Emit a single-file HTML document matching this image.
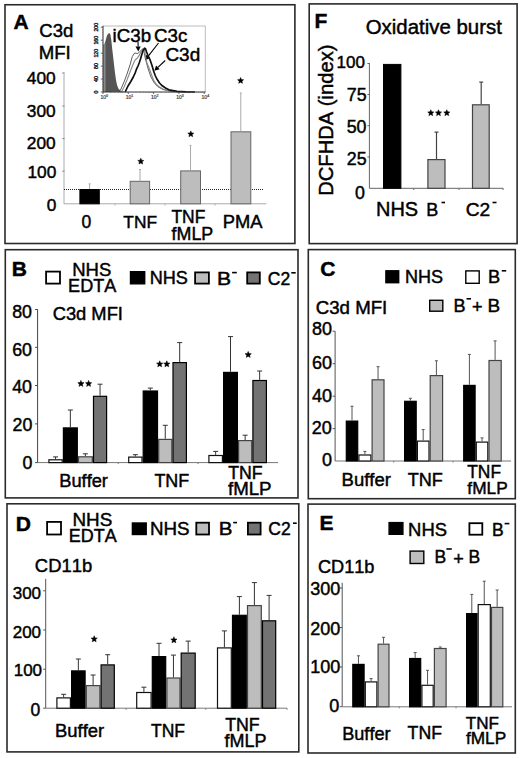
<!DOCTYPE html>
<html><head><meta charset="utf-8"><style>
html,body{margin:0;padding:0;background:#fff;overflow:hidden;}
svg{display:block;font-family:"Liberation Sans", sans-serif;font-kerning:none;}
text{font-kerning:none;stroke:#000;stroke-width:0.45px;}
</style></head><body>
<svg width="520" height="758" viewBox="0 0 520 758">
<rect width="520" height="758" fill="#fff"/>
<rect x="5" y="4.75" width="289.9" height="238.75" fill="none" stroke="#2a2a2a" stroke-width="1.6"/>
<text x="13.58" y="28.50" font-size="21.00" font-weight="bold" fill="#000">A</text>
<text x="39.26" y="36.50" font-size="18.55" fill="#000">C3d</text>
<text x="38.67" y="58.80" font-size="18.61" fill="#000">MFI</text>
<line x1="64" y1="72.6" x2="64" y2="204" stroke="#aaa" stroke-width="1" />
<line x1="62.2" y1="73" x2="64.5" y2="73" stroke="#888" stroke-width="1" />
<line x1="62.2" y1="106" x2="64.5" y2="106" stroke="#888" stroke-width="1" />
<line x1="62.2" y1="138.6" x2="64.5" y2="138.6" stroke="#888" stroke-width="1" />
<line x1="62.2" y1="171.2" x2="64.5" y2="171.2" stroke="#888" stroke-width="1" />
<line x1="64" y1="203.8" x2="266.4" y2="203.8" stroke="#aaa" stroke-width="1" />
<line x1="115" y1="203.8" x2="115" y2="205.5" stroke="#aaa" stroke-width="1" />
<line x1="165" y1="203.8" x2="165" y2="205.5" stroke="#aaa" stroke-width="1" />
<line x1="215" y1="203.8" x2="215" y2="205.5" stroke="#aaa" stroke-width="1" />
<line x1="64" y1="189.5" x2="264" y2="189.5" stroke="#222" stroke-width="1" stroke-dasharray="1 1"/>
<text x="26.81" y="84.00" font-size="17.30">400</text>
<text x="26.81" y="116.70" font-size="17.30">300</text>
<text x="26.81" y="149.30" font-size="17.30">200</text>
<text x="27.41" y="177.80" font-size="17.30">100</text>
<text x="46.65" y="210.50" font-size="17.30">0</text>
<rect x="79.90" y="189.50" width="19.40" height="14.30" fill="#000" stroke="#000" stroke-width="1"/>
<line x1="89.6" y1="189" x2="89.6" y2="183.8" stroke="#aaa" stroke-width="1" />
<line x1="88.6" y1="183.8" x2="90.6" y2="183.8" stroke="#aaa" stroke-width="1" />
<rect x="130.20" y="181.30" width="19.40" height="22.50" fill="#bdbdbd" stroke="#666" stroke-width="1"/>
<line x1="140" y1="180.8" x2="140" y2="169.5" stroke="#aaa" stroke-width="1" />
<line x1="139.0" y1="169.5" x2="141.0" y2="169.5" stroke="#aaa" stroke-width="1" />
<rect x="180.70" y="170.90" width="19.80" height="32.90" fill="#bdbdbd" stroke="#666" stroke-width="1"/>
<line x1="190.5" y1="170.4" x2="190.5" y2="145.4" stroke="#aaa" stroke-width="1" />
<line x1="189.5" y1="145.4" x2="191.5" y2="145.4" stroke="#aaa" stroke-width="1" />
<rect x="231.00" y="131.80" width="19.80" height="72.00" fill="#bdbdbd" stroke="#666" stroke-width="1"/>
<line x1="240.8" y1="131.3" x2="240.8" y2="93" stroke="#aaa" stroke-width="1" />
<line x1="239.8" y1="93" x2="241.8" y2="93" stroke="#aaa" stroke-width="1" />
<polygon points="140.80,158.20 141.67,160.21 143.84,160.42 142.20,161.86 142.68,163.99 140.80,162.88 138.92,163.99 139.40,161.86 137.76,160.42 139.93,160.21" fill="#000" stroke="#000" stroke-width="0.5" stroke-linejoin="round"/>
<polygon points="190.80,130.90 191.67,132.91 193.84,133.12 192.20,134.56 192.68,136.69 190.80,135.58 188.92,136.69 189.40,134.56 187.76,133.12 189.93,132.91" fill="#000" stroke="#000" stroke-width="0.5" stroke-linejoin="round"/>
<polygon points="240.60,77.50 241.47,79.51 243.64,79.72 242.00,81.16 242.48,83.29 240.60,82.18 238.72,83.29 239.20,81.16 237.56,79.72 239.73,79.51" fill="#000" stroke="#000" stroke-width="0.5" stroke-linejoin="round"/>
<text x="81.42" y="227.60" font-size="17.50" fill="#000">0</text>
<text x="123.31" y="228.00" font-size="17.33" fill="#000">TNF</text>
<text x="171.41" y="222.80" font-size="17.43" fill="#000">TNF</text>
<text x="171.55" y="239.80" font-size="17.86" fill="#000">fMLP</text>
<text x="222.70" y="228.00" font-size="18.34" fill="#000">PMA</text>
<text x="112.55" y="41.60" font-size="18.74" fill="#000">iC3b</text>
<text x="154.05" y="42.20" font-size="18.75" fill="#000">C3c</text>
<text x="165.44" y="61.00" font-size="18.96" fill="#000">C3d</text>
<line x1="138" y1="42" x2="138.1421839330015" y2="46.50249121171387" stroke="#000" stroke-width="1.1" />
<polygon points="138.3,51.5 135.5,46.6 140.7,46.4" fill="#000"/>
<line x1="158.5" y1="43" x2="148.0760089065009" y2="56.358151549446994" stroke="#000" stroke-width="1.1" />
<polygon points="145.0,60.3 146.0,54.8 150.1,58.0" fill="#000"/>
<line x1="165.2" y1="60.5" x2="157.93414100997626" y2="67.36590344928848" stroke="#000" stroke-width="1.1" />
<polygon points="154.3,70.8 156.1,65.5 159.7,69.3" fill="#000"/>
<rect x="309.2" y="3.9" width="207.90000000000003" height="239.7" fill="none" stroke="#2a2a2a" stroke-width="1.6"/>
<text x="314.40" y="27.90" font-size="21.00" font-weight="bold" fill="#000">F</text>
<text x="365.73" y="33.80" font-size="20.41" fill="#000">Oxidative burst</text>
<line x1="369.4" y1="63" x2="369.4" y2="188.3" stroke="#666" stroke-width="1" />
<line x1="367.4" y1="63.5" x2="369.9" y2="63.5" stroke="#666" stroke-width="1" />
<line x1="367.4" y1="94.5" x2="369.9" y2="94.5" stroke="#666" stroke-width="1" />
<line x1="367.4" y1="125.7" x2="369.9" y2="125.7" stroke="#666" stroke-width="1" />
<line x1="367.4" y1="157" x2="369.9" y2="157" stroke="#666" stroke-width="1" />
<line x1="369.4" y1="188.3" x2="503.3" y2="188.3" stroke="#666" stroke-width="1" />
<line x1="413.8" y1="188.3" x2="413.8" y2="190" stroke="#666" stroke-width="1" />
<line x1="459" y1="188.3" x2="459" y2="190" stroke="#666" stroke-width="1" />
<line x1="503" y1="188.3" x2="503" y2="190" stroke="#666" stroke-width="1" />
<text x="336.50" y="68.30" font-size="17.00">100</text>
<text x="346.75" y="100.90" font-size="17.80">75</text>
<text x="346.70" y="133.20" font-size="17.80">50</text>
<text x="346.75" y="164.50" font-size="17.80">25</text>
<text x="355.10" y="199.40" font-size="17.80">0</text>
<rect x="383.50" y="64.40" width="17.40" height="123.90" fill="#000" stroke="#000" stroke-width="1"/>
<rect x="427.90" y="159.60" width="17.10" height="28.70" fill="#bdbdbd" stroke="#444" stroke-width="1.2"/>
<line x1="436.5" y1="159" x2="436.5" y2="132.1" stroke="#444" stroke-width="1.2" />
<line x1="434.5" y1="132.1" x2="438.5" y2="132.1" stroke="#444" stroke-width="1.2" />
<rect x="472.50" y="104.80" width="16.70" height="83.50" fill="#bdbdbd" stroke="#444" stroke-width="1.2"/>
<line x1="481.2" y1="104.2" x2="481.2" y2="82.1" stroke="#444" stroke-width="1.2" />
<line x1="479.2" y1="82.1" x2="483.2" y2="82.1" stroke="#444" stroke-width="1.2" />
<polygon points="430.80,109.76 431.68,111.80 433.89,112.00 432.22,113.47 432.71,115.64 430.80,114.50 428.89,115.64 429.38,113.47 427.71,112.00 429.92,111.80" fill="#000" stroke="#000" stroke-width="0.5" stroke-linejoin="round"/>
<polygon points="438.50,109.76 439.38,111.80 441.59,112.00 439.92,113.47 440.41,115.64 438.50,114.50 436.59,115.64 437.08,113.47 435.41,112.00 437.62,111.80" fill="#000" stroke="#000" stroke-width="0.5" stroke-linejoin="round"/>
<polygon points="446.80,109.76 447.68,111.80 449.89,112.00 448.22,113.47 448.71,115.64 446.80,114.50 444.89,115.64 445.38,113.47 443.71,112.00 445.92,111.80" fill="#000" stroke="#000" stroke-width="0.5" stroke-linejoin="round"/>
<text x="376.06" y="215.70" font-size="19.97" fill="#000">NHS</text>
<text x="426.22" y="215.70" font-size="18.04" fill="#000">B</text>
<line x1="441.5" y1="202.5" x2="445" y2="202.5" stroke="#000" stroke-width="1.6" />
<text x="465.73" y="215.70" font-size="19.20" fill="#000">C2</text>
<line x1="492.5" y1="202.5" x2="496.5" y2="202.5" stroke="#000" stroke-width="1.6" />
<text transform="translate(333.1 194.2) rotate(-90)" x="-1.66" y="0" font-size="20.2">DCFHDA (index)</text>
<rect x="5.3" y="249.7" width="292.7" height="248.2" fill="none" stroke="#2a2a2a" stroke-width="1.6"/>
<text x="11.70" y="276.30" font-size="21.00" font-weight="bold" fill="#000">B</text>
<rect x="46.10" y="271.60" width="13.90" height="12.00" fill="#fff" stroke="#000" stroke-width="1.8"/>
<text x="72.18" y="275.50" font-size="18.50" fill="#000">NHS</text>
<text x="68.12" y="292.00" font-size="18.08" fill="#000">EDTA</text>
<rect x="130.50" y="271.70" width="14.20" height="12.10" fill="#000" stroke="#000" stroke-width="1.4"/>
<text x="149.72" y="284.40" font-size="18.10" fill="#000">NHS</text>
<rect x="195.10" y="272.40" width="13.80" height="11.20" fill="#bdbdbd" stroke="#000" stroke-width="1.8"/>
<text transform="translate(217.07 284.60) scale(1.2 1)" x="0" y="0" font-size="17.60">B</text>
<line x1="232.1" y1="272.6" x2="236.8" y2="272.6" stroke="#000" stroke-width="1.6" />
<rect x="247.20" y="272.40" width="12.60" height="11.20" fill="#737373" stroke="#000" stroke-width="1.8"/>
<text x="267.81" y="284.50" font-size="17.50" fill="#000">C2</text>
<line x1="291.3" y1="272.8" x2="295.7" y2="272.8" stroke="#000" stroke-width="1.6" />
<text x="52.67" y="320.00" font-size="18.34" fill="#000">C3d MFI</text>
<line x1="37.6" y1="309.3" x2="37.6" y2="462.6" stroke="#444" stroke-width="1" />
<line x1="35.1" y1="309.5" x2="37.6" y2="309.5" stroke="#444" stroke-width="1" />
<line x1="35.1" y1="347.3" x2="37.6" y2="347.3" stroke="#444" stroke-width="1" />
<line x1="35.1" y1="385.5" x2="37.6" y2="385.5" stroke="#444" stroke-width="1" />
<line x1="35.1" y1="423.9" x2="37.6" y2="423.9" stroke="#444" stroke-width="1" />
<line x1="35.1" y1="462.6" x2="37.6" y2="462.6" stroke="#444" stroke-width="1" />
<line x1="37.6" y1="462.6" x2="278" y2="462.6" stroke="#777" stroke-width="1" />
<line x1="118.2" y1="462.6" x2="118.2" y2="464" stroke="#777" stroke-width="1" />
<line x1="198" y1="462.6" x2="198" y2="464" stroke="#777" stroke-width="1" />
<text x="12.20" y="317.80" font-size="17.80">80</text>
<text x="12.20" y="356.00" font-size="17.80">60</text>
<text x="12.20" y="393.00" font-size="17.80">40</text>
<text x="12.50" y="431.20" font-size="17.80">20</text>
<text x="22.40" y="468.80" font-size="17.80">0</text>
<rect x="48.90" y="459.80" width="13.30" height="2.80" fill="#fff" stroke="#111" stroke-width="1.2"/>
<rect x="63.40" y="427.90" width="13.90" height="34.70" fill="#000" stroke="#000" stroke-width="1.2"/>
<rect x="78.50" y="456.80" width="13.80" height="5.80" fill="#bdbdbd" stroke="#444" stroke-width="1.2"/>
<rect x="93.50" y="396.30" width="13.10" height="66.30" fill="#737373" stroke="#000" stroke-width="1.2"/>
<line x1="55.55" y1="459.2" x2="55.55" y2="456.9" stroke="#333" stroke-width="1" />
<line x1="53.05" y1="456.9" x2="58.05" y2="456.9" stroke="#333" stroke-width="1" />
<line x1="70.35" y1="427.3" x2="70.35" y2="410" stroke="#333" stroke-width="1" />
<line x1="67.85" y1="410" x2="72.85" y2="410" stroke="#333" stroke-width="1" />
<line x1="85.4" y1="456.2" x2="85.4" y2="453.8" stroke="#333" stroke-width="1" />
<line x1="82.9" y1="453.8" x2="87.9" y2="453.8" stroke="#333" stroke-width="1" />
<line x1="100.05000000000001" y1="395.7" x2="100.05000000000001" y2="384.2" stroke="#333" stroke-width="1" />
<line x1="97.55000000000001" y1="384.2" x2="102.55000000000001" y2="384.2" stroke="#333" stroke-width="1" />
<rect x="128.70" y="457.10" width="13.30" height="5.50" fill="#fff" stroke="#111" stroke-width="1.2"/>
<rect x="143.20" y="391.00" width="14.30" height="71.60" fill="#000" stroke="#000" stroke-width="1.2"/>
<rect x="158.70" y="439.40" width="13.10" height="23.20" fill="#bdbdbd" stroke="#444" stroke-width="1.2"/>
<rect x="173.00" y="362.60" width="13.40" height="100.00" fill="#737373" stroke="#000" stroke-width="1.2"/>
<line x1="135.35" y1="456.5" x2="135.35" y2="454.7" stroke="#333" stroke-width="1" />
<line x1="132.85" y1="454.7" x2="137.85" y2="454.7" stroke="#333" stroke-width="1" />
<line x1="150.35" y1="390.4" x2="150.35" y2="388.1" stroke="#333" stroke-width="1" />
<line x1="147.85" y1="388.1" x2="152.85" y2="388.1" stroke="#333" stroke-width="1" />
<line x1="165.25" y1="438.8" x2="165.25" y2="425.3" stroke="#333" stroke-width="1" />
<line x1="162.75" y1="425.3" x2="167.75" y2="425.3" stroke="#333" stroke-width="1" />
<line x1="179.7" y1="362" x2="179.7" y2="342.6" stroke="#333" stroke-width="1" />
<line x1="177.2" y1="342.6" x2="182.2" y2="342.6" stroke="#333" stroke-width="1" />
<rect x="208.90" y="455.50" width="13.50" height="7.10" fill="#fff" stroke="#111" stroke-width="1.2"/>
<rect x="223.60" y="372.40" width="13.80" height="90.20" fill="#000" stroke="#000" stroke-width="1.2"/>
<rect x="238.60" y="440.60" width="13.10" height="22.00" fill="#bdbdbd" stroke="#444" stroke-width="1.2"/>
<rect x="252.90" y="380.50" width="13.50" height="82.10" fill="#737373" stroke="#000" stroke-width="1.2"/>
<line x1="215.65" y1="454.9" x2="215.65" y2="451.4" stroke="#333" stroke-width="1" />
<line x1="213.15" y1="451.4" x2="218.15" y2="451.4" stroke="#333" stroke-width="1" />
<line x1="230.5" y1="371.8" x2="230.5" y2="336.6" stroke="#333" stroke-width="1" />
<line x1="228.0" y1="336.6" x2="233.0" y2="336.6" stroke="#333" stroke-width="1" />
<line x1="245.15" y1="440" x2="245.15" y2="435.2" stroke="#333" stroke-width="1" />
<line x1="242.65" y1="435.2" x2="247.65" y2="435.2" stroke="#333" stroke-width="1" />
<line x1="259.65" y1="379.9" x2="259.65" y2="371" stroke="#333" stroke-width="1" />
<line x1="257.15" y1="371" x2="262.15" y2="371" stroke="#333" stroke-width="1" />
<polygon points="80.90,380.41 81.79,382.49 84.04,382.69 82.34,384.18 82.84,386.38 80.90,385.23 78.96,386.38 79.46,384.18 77.76,382.69 80.01,382.49" fill="#000" stroke="#000" stroke-width="0.5" stroke-linejoin="round"/>
<polygon points="88.60,380.41 89.49,382.49 91.74,382.69 90.04,384.18 90.54,386.38 88.60,385.23 86.66,386.38 87.16,384.18 85.46,382.69 87.71,382.49" fill="#000" stroke="#000" stroke-width="0.5" stroke-linejoin="round"/>
<polygon points="159.70,360.81 160.59,362.89 162.84,363.09 161.14,364.58 161.64,366.78 159.70,365.63 157.76,366.78 158.26,364.58 156.56,363.09 158.81,362.89" fill="#000" stroke="#000" stroke-width="0.5" stroke-linejoin="round"/>
<polygon points="166.80,360.81 167.69,362.89 169.94,363.09 168.24,364.58 168.74,366.78 166.80,365.63 164.86,366.78 165.36,364.58 163.66,363.09 165.91,362.89" fill="#000" stroke="#000" stroke-width="0.5" stroke-linejoin="round"/>
<polygon points="248.20,351.41 249.09,353.49 251.34,353.69 249.64,355.18 250.14,357.38 248.20,356.23 246.26,357.38 246.76,355.18 245.06,353.69 247.31,353.49" fill="#000" stroke="#000" stroke-width="0.5" stroke-linejoin="round"/>
<text x="59.20" y="486.60" font-size="18.29" fill="#000">Buffer</text>
<text x="154.40" y="487.00" font-size="17.97" fill="#000">TNF</text>
<text x="228.30" y="479.00" font-size="17.70" fill="#000">TNF</text>
<text x="227.94" y="495.30" font-size="18.70" fill="#000">fMLP</text>
<rect x="308.3" y="249.6" width="206.99999999999994" height="249.1" fill="none" stroke="#2a2a2a" stroke-width="1.6"/>
<text x="320.14" y="276.20" font-size="21.00" font-weight="bold" fill="#000">C</text>
<rect x="385.90" y="270.80" width="12.80" height="11.90" fill="#000" stroke="#000" stroke-width="1.4"/>
<text x="404.92" y="282.90" font-size="18.05" fill="#000">NHS</text>
<rect x="465.80" y="270.90" width="13.40" height="12.40" fill="#fff" stroke="#000" stroke-width="1.4"/>
<text x="487.90" y="283.00" font-size="18.23" fill="#000">B</text>
<line x1="501.8" y1="270.8" x2="506.2" y2="270.8" stroke="#000" stroke-width="1.6" />
<rect x="429.70" y="300.30" width="13.10" height="10.90" fill="#bdbdbd" stroke="#000" stroke-width="1.4"/>
<text x="453.42" y="311.90" font-size="18.04" fill="#000">B</text>
<line x1="466.5" y1="298.8" x2="471" y2="298.8" stroke="#000" stroke-width="1.6" />
<text x="472.05" y="313.29" font-size="18">+</text>
<text x="487.44" y="311.90" font-size="18.98" fill="#000">B</text>
<text x="315.75" y="313.90" font-size="18.67" fill="#000">C3d MFI</text>
<line x1="335.1" y1="331.2" x2="335.1" y2="461" stroke="#555" stroke-width="1" />
<line x1="332.6" y1="331.2" x2="335.1" y2="331.2" stroke="#555" stroke-width="1" />
<line x1="332.6" y1="363.7" x2="335.1" y2="363.7" stroke="#555" stroke-width="1" />
<line x1="332.6" y1="396.2" x2="335.1" y2="396.2" stroke="#555" stroke-width="1" />
<line x1="332.6" y1="428.6" x2="335.1" y2="428.6" stroke="#555" stroke-width="1" />
<line x1="335.1" y1="461" x2="511" y2="461" stroke="#777" stroke-width="1" />
<line x1="393.7" y1="461" x2="393.7" y2="462.5" stroke="#777" stroke-width="1" />
<line x1="453.1" y1="461" x2="453.1" y2="462.5" stroke="#777" stroke-width="1" />
<text x="311.88" y="334.90" font-size="18.00">80</text>
<text x="311.88" y="368.90" font-size="18.00">60</text>
<text x="311.88" y="402.00" font-size="18.00">40</text>
<text x="311.68" y="433.80" font-size="18.00">20</text>
<text x="321.89" y="466.00" font-size="18.00">0</text>
<rect x="346.30" y="421.10" width="11.40" height="39.90" fill="#000" stroke="#000" stroke-width="1.2"/>
<rect x="358.90" y="455.00" width="12.00" height="6.00" fill="#fff" stroke="#111" stroke-width="1.2"/>
<rect x="372.10" y="379.80" width="11.90" height="81.20" fill="#bdbdbd" stroke="#444" stroke-width="1.2"/>
<line x1="352.0" y1="420.5" x2="352.0" y2="406.3" stroke="#555" stroke-width="1" />
<line x1="350.5" y1="406.3" x2="353.5" y2="406.3" stroke="#555" stroke-width="1" />
<line x1="364.9" y1="454.4" x2="364.9" y2="451.4" stroke="#555" stroke-width="1" />
<line x1="363.4" y1="451.4" x2="366.4" y2="451.4" stroke="#555" stroke-width="1" />
<line x1="378.05" y1="379.2" x2="378.05" y2="366.7" stroke="#555" stroke-width="1" />
<line x1="376.55" y1="366.7" x2="379.55" y2="366.7" stroke="#555" stroke-width="1" />
<rect x="404.60" y="401.30" width="11.60" height="59.70" fill="#000" stroke="#000" stroke-width="1.2"/>
<rect x="417.40" y="441.10" width="11.60" height="19.90" fill="#fff" stroke="#111" stroke-width="1.2"/>
<rect x="430.20" y="375.60" width="12.40" height="85.40" fill="#bdbdbd" stroke="#444" stroke-width="1.2"/>
<line x1="410.4" y1="400.7" x2="410.4" y2="398.3" stroke="#555" stroke-width="1" />
<line x1="408.9" y1="398.3" x2="411.9" y2="398.3" stroke="#555" stroke-width="1" />
<line x1="423.20000000000005" y1="440.5" x2="423.20000000000005" y2="429.6" stroke="#555" stroke-width="1" />
<line x1="421.70000000000005" y1="429.6" x2="424.70000000000005" y2="429.6" stroke="#555" stroke-width="1" />
<line x1="436.4" y1="375" x2="436.4" y2="360.8" stroke="#555" stroke-width="1" />
<line x1="434.9" y1="360.8" x2="437.9" y2="360.8" stroke="#555" stroke-width="1" />
<rect x="463.70" y="385.40" width="11.40" height="75.60" fill="#000" stroke="#000" stroke-width="1.2"/>
<rect x="476.30" y="442.10" width="11.50" height="18.90" fill="#fff" stroke="#111" stroke-width="1.2"/>
<rect x="489.00" y="360.50" width="12.20" height="100.50" fill="#bdbdbd" stroke="#444" stroke-width="1.2"/>
<line x1="469.4" y1="384.8" x2="469.4" y2="354.4" stroke="#555" stroke-width="1" />
<line x1="467.9" y1="354.4" x2="470.9" y2="354.4" stroke="#555" stroke-width="1" />
<line x1="482.04999999999995" y1="441.5" x2="482.04999999999995" y2="437.9" stroke="#555" stroke-width="1" />
<line x1="480.54999999999995" y1="437.9" x2="483.54999999999995" y2="437.9" stroke="#555" stroke-width="1" />
<line x1="495.1" y1="359.9" x2="495.1" y2="340.9" stroke="#555" stroke-width="1" />
<line x1="493.6" y1="340.9" x2="496.6" y2="340.9" stroke="#555" stroke-width="1" />
<text x="341.58" y="485.70" font-size="18.53" fill="#000">Buffer</text>
<text x="407.79" y="486.00" font-size="18.07" fill="#000">TNF</text>
<text x="467.21" y="477.80" font-size="17.43" fill="#000">TNF</text>
<text x="467.36" y="494.40" font-size="17.29" fill="#000">fMLP</text>
<rect x="7" y="503.8" width="291.8" height="248.09999999999997" fill="none" stroke="#2a2a2a" stroke-width="1.6"/>
<text x="15.70" y="530.50" font-size="21.00" font-weight="bold" fill="#000">D</text>
<rect x="47.10" y="521.90" width="13.90" height="12.60" fill="#fff" stroke="#000" stroke-width="1.8"/>
<text x="72.45" y="526.00" font-size="18.86" fill="#000">NHS</text>
<text x="68.83" y="542.40" font-size="17.96" fill="#000">EDTA</text>
<rect x="132.40" y="523.00" width="13.80" height="11.50" fill="#000" stroke="#000" stroke-width="1.4"/>
<text x="149.96" y="535.20" font-size="18.81" fill="#000">NHS</text>
<rect x="196.30" y="522.70" width="12.70" height="11.80" fill="#bdbdbd" stroke="#000" stroke-width="1.8"/>
<text transform="translate(218.82 535.30) scale(1.14 1)" x="0" y="0" font-size="18.00">B</text>
<line x1="233.2" y1="522.6" x2="237" y2="522.6" stroke="#000" stroke-width="1.6" />
<rect x="247.90" y="522.70" width="12.70" height="11.80" fill="#737373" stroke="#000" stroke-width="1.8"/>
<text x="268.31" y="535.40" font-size="17.50" fill="#000">C2</text>
<line x1="293" y1="523.2" x2="296.7" y2="523.2" stroke="#000" stroke-width="1.6" />
<text x="34.87" y="572.30" font-size="18.41" fill="#000">CD11b</text>
<line x1="45.7" y1="578.8" x2="45.7" y2="708.2" stroke="#555" stroke-width="1" />
<line x1="43.2" y1="590.8" x2="45.7" y2="590.8" stroke="#555" stroke-width="1" />
<line x1="43.2" y1="630" x2="45.7" y2="630" stroke="#555" stroke-width="1" />
<line x1="43.2" y1="669.2" x2="45.7" y2="669.2" stroke="#555" stroke-width="1" />
<line x1="43.2" y1="708.2" x2="45.7" y2="708.2" stroke="#555" stroke-width="1" />
<line x1="45.7" y1="708.2" x2="287" y2="708.2" stroke="#777" stroke-width="1" />
<line x1="126.1" y1="708.2" x2="126.1" y2="709.8" stroke="#777" stroke-width="1" />
<line x1="205.8" y1="708.2" x2="205.8" y2="709.8" stroke="#777" stroke-width="1" />
<line x1="287" y1="708.2" x2="287" y2="709.8" stroke="#777" stroke-width="1" />
<text x="12.70" y="598.80" font-size="17.00">300</text>
<text x="12.70" y="638.40" font-size="17.00">200</text>
<text x="13.70" y="675.80" font-size="17.00">100</text>
<text x="30.55" y="716.00" font-size="17.50">0</text>
<rect x="56.90" y="697.90" width="13.50" height="10.30" fill="#fff" stroke="#111" stroke-width="1.2"/>
<rect x="71.60" y="670.90" width="13.50" height="37.30" fill="#000" stroke="#000" stroke-width="1.2"/>
<rect x="86.30" y="685.60" width="13.60" height="22.60" fill="#bdbdbd" stroke="#444" stroke-width="1.2"/>
<rect x="101.10" y="664.90" width="13.20" height="43.30" fill="#737373" stroke="#000" stroke-width="1.2"/>
<line x1="63.65" y1="697.3" x2="63.65" y2="694.3" stroke="#333" stroke-width="1" />
<line x1="61.15" y1="694.3" x2="66.15" y2="694.3" stroke="#333" stroke-width="1" />
<line x1="78.35" y1="670.3" x2="78.35" y2="659" stroke="#333" stroke-width="1" />
<line x1="75.85" y1="659" x2="80.85" y2="659" stroke="#333" stroke-width="1" />
<line x1="93.1" y1="685" x2="93.1" y2="675" stroke="#333" stroke-width="1" />
<line x1="90.6" y1="675" x2="95.6" y2="675" stroke="#333" stroke-width="1" />
<line x1="107.7" y1="664.3" x2="107.7" y2="654.7" stroke="#333" stroke-width="1" />
<line x1="105.2" y1="654.7" x2="110.2" y2="654.7" stroke="#333" stroke-width="1" />
<rect x="136.70" y="692.50" width="14.40" height="15.70" fill="#fff" stroke="#111" stroke-width="1.2"/>
<rect x="152.30" y="656.60" width="13.40" height="51.60" fill="#000" stroke="#000" stroke-width="1.2"/>
<rect x="166.90" y="678.00" width="13.10" height="30.20" fill="#bdbdbd" stroke="#444" stroke-width="1.2"/>
<rect x="181.20" y="653.10" width="14.00" height="55.10" fill="#737373" stroke="#000" stroke-width="1.2"/>
<line x1="143.89999999999998" y1="691.9" x2="143.89999999999998" y2="687.2" stroke="#333" stroke-width="1" />
<line x1="141.39999999999998" y1="687.2" x2="146.39999999999998" y2="687.2" stroke="#333" stroke-width="1" />
<line x1="159.0" y1="656" x2="159.0" y2="643.3" stroke="#333" stroke-width="1" />
<line x1="156.5" y1="643.3" x2="161.5" y2="643.3" stroke="#333" stroke-width="1" />
<line x1="173.45" y1="677.4" x2="173.45" y2="655.1" stroke="#333" stroke-width="1" />
<line x1="170.95" y1="655.1" x2="175.95" y2="655.1" stroke="#333" stroke-width="1" />
<line x1="188.2" y1="652.5" x2="188.2" y2="641.1" stroke="#333" stroke-width="1" />
<line x1="185.7" y1="641.1" x2="190.7" y2="641.1" stroke="#333" stroke-width="1" />
<rect x="217.50" y="647.90" width="13.80" height="60.30" fill="#fff" stroke="#111" stroke-width="1.2"/>
<rect x="232.50" y="615.30" width="13.80" height="92.90" fill="#000" stroke="#000" stroke-width="1.2"/>
<rect x="247.50" y="605.60" width="13.80" height="102.60" fill="#bdbdbd" stroke="#444" stroke-width="1.2"/>
<rect x="262.50" y="620.80" width="13.20" height="87.40" fill="#737373" stroke="#000" stroke-width="1.2"/>
<line x1="224.4" y1="647.3" x2="224.4" y2="630.9" stroke="#333" stroke-width="1" />
<line x1="221.9" y1="630.9" x2="226.9" y2="630.9" stroke="#333" stroke-width="1" />
<line x1="239.4" y1="614.7" x2="239.4" y2="596.6" stroke="#333" stroke-width="1" />
<line x1="236.9" y1="596.6" x2="241.9" y2="596.6" stroke="#333" stroke-width="1" />
<line x1="254.39999999999998" y1="605" x2="254.39999999999998" y2="582.6" stroke="#333" stroke-width="1" />
<line x1="251.89999999999998" y1="582.6" x2="256.9" y2="582.6" stroke="#333" stroke-width="1" />
<line x1="269.1" y1="620.2" x2="269.1" y2="595.4" stroke="#333" stroke-width="1" />
<line x1="266.6" y1="595.4" x2="271.6" y2="595.4" stroke="#333" stroke-width="1" />
<polygon points="94.20,635.81 95.09,637.89 97.34,638.09 95.64,639.58 96.14,641.78 94.20,640.63 92.26,641.78 92.76,639.58 91.06,638.09 93.31,637.89" fill="#000" stroke="#000" stroke-width="0.5" stroke-linejoin="round"/>
<polygon points="173.90,636.81 174.79,638.89 177.04,639.09 175.34,640.58 175.84,642.78 173.90,641.63 171.96,642.78 172.46,640.58 170.76,639.09 173.01,638.89" fill="#000" stroke="#000" stroke-width="0.5" stroke-linejoin="round"/>
<text x="54.99" y="737.20" font-size="18.45" fill="#000">Buffer</text>
<text x="151.01" y="737.20" font-size="17.54" fill="#000">TNF</text>
<text x="225.20" y="730.60" font-size="17.75" fill="#000">TNF</text>
<text x="224.55" y="746.80" font-size="17.95" fill="#000">fMLP</text>
<rect x="308" y="504.1" width="207.29999999999995" height="248.89999999999998" fill="none" stroke="#2a2a2a" stroke-width="1.6"/>
<text x="319.60" y="529.60" font-size="21.00" font-weight="bold" fill="#000">E</text>
<rect x="389.10" y="522.60" width="13.80" height="11.70" fill="#000" stroke="#000" stroke-width="1.4"/>
<text x="408.09" y="535.50" font-size="18.45" fill="#000">NHS</text>
<rect x="469.40" y="523.20" width="12.90" height="11.50" fill="#fff" stroke="#000" stroke-width="1.8"/>
<text x="491.96" y="535.50" font-size="17.50" fill="#000">B</text>
<line x1="504.6" y1="523.6" x2="509.3" y2="523.6" stroke="#000" stroke-width="1.6" />
<rect x="410.10" y="551.10" width="13.70" height="12.40" fill="#bdbdbd" stroke="#000" stroke-width="1.4"/>
<text x="434.46" y="562.90" font-size="17.50" fill="#000">B</text>
<line x1="446.4" y1="549" x2="451.8" y2="549" stroke="#000" stroke-width="1.6" />
<text x="453.25" y="564.89" font-size="18">+</text>
<text x="468.56" y="562.90" font-size="17.50" fill="#000">B</text>
<text x="317.88" y="573.10" font-size="18.21" fill="#000">CD11b</text>
<line x1="342.2" y1="582.7" x2="342.2" y2="706.7" stroke="#555" stroke-width="1" />
<line x1="339.7" y1="588" x2="342.2" y2="588" stroke="#555" stroke-width="1" />
<line x1="339.7" y1="627.5" x2="342.2" y2="627.5" stroke="#555" stroke-width="1" />
<line x1="339.7" y1="667" x2="342.2" y2="667" stroke="#555" stroke-width="1" />
<line x1="339.7" y1="706.7" x2="342.2" y2="706.7" stroke="#555" stroke-width="1" />
<line x1="342.2" y1="706.8" x2="512" y2="706.8" stroke="#777" stroke-width="1" />
<line x1="399.2" y1="706.8" x2="399.2" y2="708.3" stroke="#777" stroke-width="1" />
<line x1="456" y1="706.8" x2="456" y2="708.3" stroke="#777" stroke-width="1" />
<text x="310.17" y="595.40" font-size="18.00">300</text>
<text x="310.17" y="635.20" font-size="18.00">200</text>
<text x="310.17" y="672.80" font-size="18.00">100</text>
<text x="329.19" y="711.80" font-size="18.00">0</text>
<rect x="352.80" y="664.40" width="11.30" height="42.40" fill="#000" stroke="#000" stroke-width="1.2"/>
<rect x="365.30" y="681.90" width="11.60" height="24.90" fill="#fff" stroke="#111" stroke-width="1.2"/>
<rect x="378.10" y="644.20" width="10.90" height="62.60" fill="#bdbdbd" stroke="#444" stroke-width="1.2"/>
<line x1="358.45" y1="663.8" x2="358.45" y2="655.8" stroke="#555" stroke-width="1" />
<line x1="356.95" y1="655.8" x2="359.95" y2="655.8" stroke="#555" stroke-width="1" />
<line x1="371.1" y1="681.3" x2="371.1" y2="678.6" stroke="#555" stroke-width="1" />
<line x1="369.6" y1="678.6" x2="372.6" y2="678.6" stroke="#555" stroke-width="1" />
<line x1="383.55" y1="643.6" x2="383.55" y2="637.3" stroke="#555" stroke-width="1" />
<line x1="382.05" y1="637.3" x2="385.05" y2="637.3" stroke="#555" stroke-width="1" />
<rect x="409.60" y="658.50" width="11.10" height="48.30" fill="#000" stroke="#000" stroke-width="1.2"/>
<rect x="421.90" y="685.30" width="11.30" height="21.50" fill="#fff" stroke="#111" stroke-width="1.2"/>
<rect x="434.40" y="648.50" width="11.70" height="58.30" fill="#bdbdbd" stroke="#444" stroke-width="1.2"/>
<line x1="415.15" y1="657.9" x2="415.15" y2="652.6" stroke="#555" stroke-width="1" />
<line x1="413.65" y1="652.6" x2="416.65" y2="652.6" stroke="#555" stroke-width="1" />
<line x1="427.55" y1="684.7" x2="427.55" y2="670.3" stroke="#555" stroke-width="1" />
<line x1="426.05" y1="670.3" x2="429.05" y2="670.3" stroke="#555" stroke-width="1" />
<line x1="440.25" y1="647.9" x2="440.25" y2="647" stroke="#555" stroke-width="1" />
<line x1="438.75" y1="647" x2="441.75" y2="647" stroke="#555" stroke-width="1" />
<rect x="466.60" y="613.60" width="10.40" height="93.20" fill="#000" stroke="#000" stroke-width="1.2"/>
<rect x="478.20" y="604.60" width="12.10" height="102.20" fill="#fff" stroke="#111" stroke-width="1.2"/>
<rect x="491.50" y="607.40" width="11.30" height="99.40" fill="#bdbdbd" stroke="#444" stroke-width="1.2"/>
<line x1="471.8" y1="613" x2="471.8" y2="594.4" stroke="#555" stroke-width="1" />
<line x1="470.3" y1="594.4" x2="473.3" y2="594.4" stroke="#555" stroke-width="1" />
<line x1="484.25" y1="604" x2="484.25" y2="581.2" stroke="#555" stroke-width="1" />
<line x1="482.75" y1="581.2" x2="485.75" y2="581.2" stroke="#555" stroke-width="1" />
<line x1="497.15" y1="606.8" x2="497.15" y2="590" stroke="#555" stroke-width="1" />
<line x1="495.65" y1="590" x2="498.65" y2="590" stroke="#555" stroke-width="1" />
<text x="342.21" y="739.90" font-size="18.14" fill="#000">Buffer</text>
<text x="407.60" y="739.40" font-size="17.70" fill="#000">TNF</text>
<text x="465.82" y="728.90" font-size="17.06" fill="#000">TNF</text>
<text x="465.96" y="744.00" font-size="17.25" fill="#000">fMLP</text>
<path d="M103,26 L205.3,26 L205.3,92" fill="none" stroke="#aaa" stroke-width="0.8"/>
<polygon points="103.0,92.0 103.0,45.0 104.5,44.0 105.5,41.0 106.5,37.0 107.5,34.5 108.5,33.5 109.5,33.0 110.5,35.0 111.3,40.0 112.0,47.0 112.7,53.0 113.5,60.0 114.3,67.0 115.0,73.0 116.0,80.0 117.0,85.0 118.5,88.8 120.5,90.8 124.5,91.8" fill="#555" stroke="none"/>
<polygon points="103,92 103,45 104.5,44 105.5,43 105.5,92" fill="#8a8a8a"/>
<polyline points="119.0,91.8 121.0,89.0 124.0,82.0 127.0,74.0 130.0,65.0 132.3,56.5 134.6,53.0 137.7,53.5 140.8,50.8 142.6,48.8 143.6,49.5 144.3,53.0 145.0,57.0 146.5,63.0 148.5,70.0 151.0,77.0 154.0,82.5 158.0,86.8 163.0,89.5 170.0,91.0 180.0,91.7" fill="none" stroke="#333" stroke-width="0.8"/>
<polyline points="121.5,91.8 124.0,87.0 127.0,80.0 130.0,72.0 133.0,64.5 135.0,60.0 136.9,58.5 139.2,55.4 141.5,51.0 143.0,49.0 144.2,49.2 145.0,52.5 145.8,58.0 147.0,63.0 148.6,67.0 150.2,71.0 152.0,76.0 153.6,80.4 156.5,84.5 159.6,87.1 163.5,89.2 167.7,90.5 175.0,91.4 185.0,91.8" fill="none" stroke="#888" stroke-width="1.1"/>
<polyline points="125.2,91.8 128.0,86.0 130.8,81.5 133.3,77.0 135.4,72.3 136.5,69.2 138.0,66.0 139.2,63.0 140.5,59.0 141.5,55.4 143.0,50.8 144.6,48.2 145.6,49.0 146.6,52.0 148.0,55.5 150.2,60.2 152.0,65.5 153.6,71.0 155.2,75.5 156.9,79.0 159.5,83.0 162.3,85.8 165.5,88.0 169.0,89.8 177.0,91.3 186.0,91.8 195.0,92.0" fill="none" stroke="#111" stroke-width="1.7" stroke-linejoin="round"/>
<path d="M103,25.8 L103,92 L205.5,92" fill="none" stroke="#333" stroke-width="1"/>
<line x1="100.8" y1="92.0" x2="103" y2="92.0" stroke="#444" stroke-width="0.8"/>
<line x1="100.8" y1="79.0" x2="103" y2="79.0" stroke="#444" stroke-width="0.8"/>
<line x1="100.8" y1="66.1" x2="103" y2="66.1" stroke="#444" stroke-width="0.8"/>
<line x1="100.8" y1="53.2" x2="103" y2="53.2" stroke="#444" stroke-width="0.8"/>
<line x1="100.8" y1="40.2" x2="103" y2="40.2" stroke="#444" stroke-width="0.8"/>
<line x1="100.8" y1="27.2" x2="103" y2="27.2" stroke="#444" stroke-width="0.8"/>
<line x1="102" y1="92.0" x2="103" y2="92.0" stroke="#666" stroke-width="0.5"/>
<line x1="102" y1="89.4" x2="103" y2="89.4" stroke="#666" stroke-width="0.5"/>
<line x1="102" y1="86.8" x2="103" y2="86.8" stroke="#666" stroke-width="0.5"/>
<line x1="102" y1="84.2" x2="103" y2="84.2" stroke="#666" stroke-width="0.5"/>
<line x1="102" y1="81.6" x2="103" y2="81.6" stroke="#666" stroke-width="0.5"/>
<line x1="102" y1="79.0" x2="103" y2="79.0" stroke="#666" stroke-width="0.5"/>
<line x1="102" y1="76.5" x2="103" y2="76.5" stroke="#666" stroke-width="0.5"/>
<line x1="102" y1="73.9" x2="103" y2="73.9" stroke="#666" stroke-width="0.5"/>
<line x1="102" y1="71.3" x2="103" y2="71.3" stroke="#666" stroke-width="0.5"/>
<line x1="102" y1="68.7" x2="103" y2="68.7" stroke="#666" stroke-width="0.5"/>
<line x1="102" y1="66.1" x2="103" y2="66.1" stroke="#666" stroke-width="0.5"/>
<line x1="102" y1="63.5" x2="103" y2="63.5" stroke="#666" stroke-width="0.5"/>
<line x1="102" y1="60.9" x2="103" y2="60.9" stroke="#666" stroke-width="0.5"/>
<line x1="102" y1="58.3" x2="103" y2="58.3" stroke="#666" stroke-width="0.5"/>
<line x1="102" y1="55.7" x2="103" y2="55.7" stroke="#666" stroke-width="0.5"/>
<line x1="102" y1="53.2" x2="103" y2="53.2" stroke="#666" stroke-width="0.5"/>
<line x1="102" y1="50.6" x2="103" y2="50.6" stroke="#666" stroke-width="0.5"/>
<line x1="102" y1="48.0" x2="103" y2="48.0" stroke="#666" stroke-width="0.5"/>
<line x1="102" y1="45.4" x2="103" y2="45.4" stroke="#666" stroke-width="0.5"/>
<line x1="102" y1="42.8" x2="103" y2="42.8" stroke="#666" stroke-width="0.5"/>
<line x1="102" y1="40.2" x2="103" y2="40.2" stroke="#666" stroke-width="0.5"/>
<line x1="102" y1="37.6" x2="103" y2="37.6" stroke="#666" stroke-width="0.5"/>
<line x1="102" y1="35.0" x2="103" y2="35.0" stroke="#666" stroke-width="0.5"/>
<line x1="102" y1="32.4" x2="103" y2="32.4" stroke="#666" stroke-width="0.5"/>
<line x1="102" y1="29.8" x2="103" y2="29.8" stroke="#666" stroke-width="0.5"/>
<line x1="102" y1="27.2" x2="103" y2="27.2" stroke="#666" stroke-width="0.5"/>
<line x1="103.0" y1="92" x2="103.0" y2="94" stroke="#444" stroke-width="0.8"/>
<line x1="128.3" y1="92" x2="128.3" y2="94" stroke="#444" stroke-width="0.8"/>
<line x1="153.6" y1="92" x2="153.6" y2="94" stroke="#444" stroke-width="0.8"/>
<line x1="178.9" y1="92" x2="178.9" y2="94" stroke="#444" stroke-width="0.8"/>
<line x1="204.2" y1="92" x2="204.2" y2="94" stroke="#444" stroke-width="0.8"/>
<line x1="110.6" y1="92" x2="110.6" y2="93" stroke="#666" stroke-width="0.5"/>
<line x1="115.1" y1="92" x2="115.1" y2="93" stroke="#666" stroke-width="0.5"/>
<line x1="118.2" y1="92" x2="118.2" y2="93" stroke="#666" stroke-width="0.5"/>
<line x1="120.7" y1="92" x2="120.7" y2="93" stroke="#666" stroke-width="0.5"/>
<line x1="122.7" y1="92" x2="122.7" y2="93" stroke="#666" stroke-width="0.5"/>
<line x1="124.4" y1="92" x2="124.4" y2="93" stroke="#666" stroke-width="0.5"/>
<line x1="125.8" y1="92" x2="125.8" y2="93" stroke="#666" stroke-width="0.5"/>
<line x1="127.1" y1="92" x2="127.1" y2="93" stroke="#666" stroke-width="0.5"/>
<line x1="135.9" y1="92" x2="135.9" y2="93" stroke="#666" stroke-width="0.5"/>
<line x1="140.4" y1="92" x2="140.4" y2="93" stroke="#666" stroke-width="0.5"/>
<line x1="143.5" y1="92" x2="143.5" y2="93" stroke="#666" stroke-width="0.5"/>
<line x1="146.0" y1="92" x2="146.0" y2="93" stroke="#666" stroke-width="0.5"/>
<line x1="148.0" y1="92" x2="148.0" y2="93" stroke="#666" stroke-width="0.5"/>
<line x1="149.7" y1="92" x2="149.7" y2="93" stroke="#666" stroke-width="0.5"/>
<line x1="151.1" y1="92" x2="151.1" y2="93" stroke="#666" stroke-width="0.5"/>
<line x1="152.4" y1="92" x2="152.4" y2="93" stroke="#666" stroke-width="0.5"/>
<line x1="161.2" y1="92" x2="161.2" y2="93" stroke="#666" stroke-width="0.5"/>
<line x1="165.7" y1="92" x2="165.7" y2="93" stroke="#666" stroke-width="0.5"/>
<line x1="168.8" y1="92" x2="168.8" y2="93" stroke="#666" stroke-width="0.5"/>
<line x1="171.3" y1="92" x2="171.3" y2="93" stroke="#666" stroke-width="0.5"/>
<line x1="173.3" y1="92" x2="173.3" y2="93" stroke="#666" stroke-width="0.5"/>
<line x1="175.0" y1="92" x2="175.0" y2="93" stroke="#666" stroke-width="0.5"/>
<line x1="176.4" y1="92" x2="176.4" y2="93" stroke="#666" stroke-width="0.5"/>
<line x1="177.7" y1="92" x2="177.7" y2="93" stroke="#666" stroke-width="0.5"/>
<line x1="186.5" y1="92" x2="186.5" y2="93" stroke="#666" stroke-width="0.5"/>
<line x1="191.0" y1="92" x2="191.0" y2="93" stroke="#666" stroke-width="0.5"/>
<line x1="194.1" y1="92" x2="194.1" y2="93" stroke="#666" stroke-width="0.5"/>
<line x1="196.6" y1="92" x2="196.6" y2="93" stroke="#666" stroke-width="0.5"/>
<line x1="198.6" y1="92" x2="198.6" y2="93" stroke="#666" stroke-width="0.5"/>
<line x1="200.3" y1="92" x2="200.3" y2="93" stroke="#666" stroke-width="0.5"/>
<line x1="201.7" y1="92" x2="201.7" y2="93" stroke="#666" stroke-width="0.5"/>
<line x1="203.0" y1="92" x2="203.0" y2="93" stroke="#666" stroke-width="0.5"/>
<text transform="translate(98.3 92.0) rotate(-90)" text-anchor="middle" font-size="5.3" fill="#222" style="stroke:#222;stroke-width:0.35px">0</text>
<text transform="translate(98.3 79.0) rotate(-90)" text-anchor="middle" font-size="5.3" fill="#222" style="stroke:#222;stroke-width:0.35px">40</text>
<text transform="translate(98.3 66.1) rotate(-90)" text-anchor="middle" font-size="5.3" fill="#222" style="stroke:#222;stroke-width:0.35px">80</text>
<text transform="translate(98.3 53.2) rotate(-90)" text-anchor="middle" font-size="5.3" fill="#222" style="stroke:#222;stroke-width:0.35px">120</text>
<text transform="translate(98.3 40.2) rotate(-90)" text-anchor="middle" font-size="5.3" fill="#222" style="stroke:#222;stroke-width:0.35px">160</text>
<text transform="translate(98.3 27.2) rotate(-90)" text-anchor="middle" font-size="5.3" fill="#222" style="stroke:#222;stroke-width:0.35px">200</text>
<text x="100.4" y="99.2" font-size="5" fill="#444" style="stroke:#444;stroke-width:0.2px">10<tspan dy="-2" font-size="3.5">0</tspan></text>
<text x="125.7" y="99.2" font-size="5" fill="#444" style="stroke:#444;stroke-width:0.2px">10<tspan dy="-2" font-size="3.5">1</tspan></text>
<text x="151.0" y="99.2" font-size="5" fill="#444" style="stroke:#444;stroke-width:0.2px">10<tspan dy="-2" font-size="3.5">2</tspan></text>
<text x="176.3" y="99.2" font-size="5" fill="#444" style="stroke:#444;stroke-width:0.2px">10<tspan dy="-2" font-size="3.5">3</tspan></text>
<text x="201.6" y="99.2" font-size="5" fill="#444" style="stroke:#444;stroke-width:0.2px">10<tspan dy="-2" font-size="3.5">4</tspan></text>
</svg>
</body></html>
